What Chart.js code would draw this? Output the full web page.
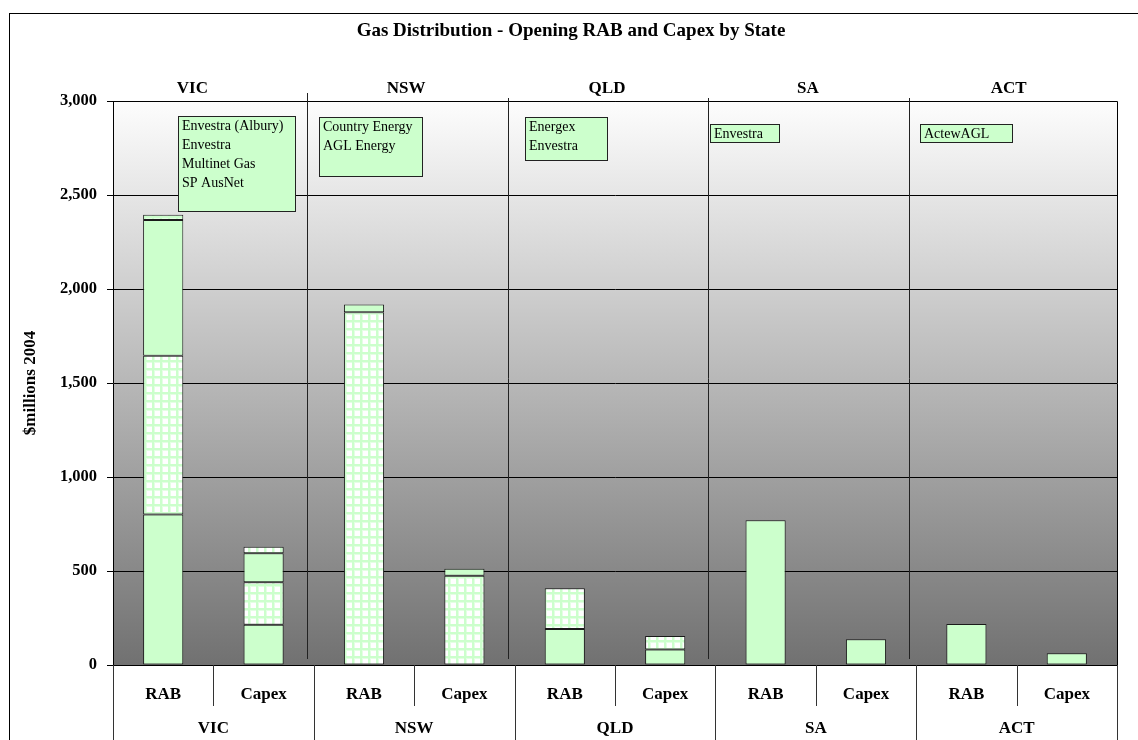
<!DOCTYPE html>
<html><head><meta charset="utf-8">
<script src="https://cdn.jsdelivr.net/npm/chart.js@4"></script>
<style>html,body{margin:0;padding:0;background:#fff}#wrap{width:1138px;height:740px;position:relative}</style>
</head><body><div id="wrap"><canvas id="c" width="1138" height="740"></canvas></div>
<script>
// ---- data ----
const chartTitle = "Gas Distribution - Opening RAB and Capex by State";
const yAxisTitle = "$millions 2004";
const categories = ["RAB","Capex","RAB","Capex","RAB","Capex","RAB","Capex","RAB","Capex"];
const states = ["VIC","NSW","QLD","SA","ACT"];
const segment1 = [800, 214, null, null, 191, 83, 770, 137, 218, 62];
const segment2 = [845, 226, 1876, 475, 217, 71, null, null, null, null];
const segment3 = [722, 154, 42, 37, null, null, null, null, null, null];
const segment4 = [28, 35, null, null, null, null, null, null, null, null];
const yTicks = [0, 500, 1000, 1500, 2000, 2500, 3000];
const distributors = [
  ["Envestra (Albury)", "Envestra", "Multinet Gas", "SP AusNet"],
  ["Country Energy", "AGL Energy"],
  ["Energex", "Envestra"],
  ["Envestra"],
  ["ActewAGL"]
];
// ---- layout of annotation boxes (pixels): x, y, w, h ----
const boxLayout = [[178,116,117,95],[319,117,103,59],[525,117,82,43],[710,124,69,18],[920,124,92,18]];
const topLabelShift = [-21, -8, -8, -8, -8];

const FONT = "'Liberation Serif', 'Times New Roman', serif";
const GREEN = '#ccffcc';
const EDGE = '#1a1a1a';

const canvas = document.getElementById('c');
function makePattern(){
  const p = document.createElement('canvas'); p.width = 8; p.height = 8;
  const g = p.getContext('2d');
  g.fillStyle = '#ffffff'; g.fillRect(0,0,8,8);
  g.fillStyle = '#e4ffe4'; g.fillRect(0,0,8,3); g.fillRect(0,0,3,8);
  g.fillStyle = GREEN; g.fillRect(0,0,8,2); g.fillRect(0,0,2,8);
  return canvas.getContext('2d').createPattern(p,'repeat');
}
const pattern = makePattern();

function ds(label, data, fill){
  return {label, data, backgroundColor: fill, borderColor: EDGE, borderWidth: 1,
    borderSkipped: false, stack: 's', categoryPercentage: 1.0, barPercentage: 0.4};
}

const decor = {
  id: 'decor',
  beforeDraw(chart){
    const {ctx, chartArea: a} = chart;
    ctx.save();
    ctx.fillStyle = '#fff'; ctx.fillRect(0,0,chart.width,chart.height);
    const g = ctx.createLinearGradient(0, a.top, 0, a.bottom);
    g.addColorStop(0, '#fdfdfd'); g.addColorStop(1, '#717171');
    ctx.fillStyle = g; ctx.fillRect(a.left, a.top, a.right - a.left, a.bottom - a.top);
    ctx.restore();
  },
  afterDraw(chart){
    const {ctx, chartArea: a} = chart;
    const xs = chart.scales.x;
    const px = i => xs.getPixelForValue(i);
    const step = px(1) - px(0);
    ctx.save();
    // outer frame
    ctx.strokeStyle = '#000'; ctx.lineWidth = 1;
    ctx.strokeRect(9.5, 13.5, 1200, 800);
    // plot border right/top
    ctx.beginPath();
    ctx.moveTo(a.left, a.top + 0.5); ctx.lineTo(a.right + 0.5, a.top + 0.5);
    ctx.lineTo(a.right + 0.5, a.bottom);
    ctx.stroke();
    // title
    ctx.fillStyle = '#000';
    ctx.font = "bold 19px " + FONT;
    ctx.textAlign = 'center'; ctx.textBaseline = 'middle';
    ctx.fillText(chartTitle, 571, 31);
    // multi-level category axis lines
    ctx.strokeStyle = '#333';
    for (let k = 0; k <= categories.length; k++) {
      const xb = Math.round(px(k) - step/2) + 0.5;
      const long = (k % 2 === 0);
      ctx.beginPath(); ctx.moveTo(xb, a.bottom); ctx.lineTo(xb, long ? 740 : 706); ctx.stroke();
    }
    // state labels (bottom and top) and separators
    ctx.font = "bold 17px " + FONT;
    ctx.fillStyle = '#000';
    states.forEach((s, j) => {
      const c = (px(2*j) + px(2*j+1)) / 2;
      ctx.fillText(s, c, 729);
      ctx.fillText(s, c + topLabelShift[j], 89);
      if (j > 0) {
        const xb = Math.round(px(2*j) - step/2 - 7) + 0.5;
        ctx.strokeStyle = '#222';
        ctx.beginPath(); ctx.moveTo(xb, j === 1 ? 93 : 98); ctx.lineTo(xb, a.bottom - 6); ctx.stroke();
      }
    });
    // distributor boxes
    ctx.font = "14px " + FONT;
    ctx.textAlign = 'left'; ctx.textBaseline = 'middle';
    distributors.forEach((lines, j) => {
      const [bx, by, bw, bh] = boxLayout[j];
      ctx.fillStyle = GREEN; ctx.fillRect(bx, by, bw, bh);
      ctx.strokeStyle = '#222'; ctx.strokeRect(bx + 0.5, by + 0.5, bw, bh);
      ctx.fillStyle = '#000';
      lines.forEach((t, i) => ctx.fillText(t, bx + 4, by + 10 + i * 19));
    });
    ctx.restore();
  }
};

new Chart(canvas, {
  type: 'bar',
  data: {
    labels: categories,
    datasets: [
      ds('Segment 1', segment1, GREEN),
      ds('Segment 2', segment2, pattern),
      ds('Segment 3', segment3, GREEN),
      ds('Segment 4', segment4, pattern)
    ]
  },
  options: {
    responsive: false, animation: false, devicePixelRatio: 1,
    layout: {padding: {top: 101, right: 21, left: 0, bottom: 0}},
    plugins: {legend: {display: false}, tooltip: {enabled: false}, title: {display: false}},
    scales: {
      x: {
        stacked: true,
        grid: {display: false},
        border: {display: true, color: '#000', width: 1},
        ticks: {font: {family: FONT, size: 17, weight: 'bold'}, color: '#000', padding: 11, maxRotation: 0, autoSkip: false},
        afterFit: s => { s.height = 75; }
      },
      y: {
        stacked: true, min: 0, max: 3000,
        afterBuildTicks: s => { s.ticks = yTicks.map(v => ({value: v})); },
        ticks: {font: {family: FONT, size: 16.5, weight: 'bold'}, color: '#000', padding: 10,
          callback: v => Number(v).toLocaleString('en-US')},
        grid: {color: '#000', lineWidth: 1, tickLength: 6, drawTicks: true},
        border: {display: true, color: '#000', width: 1},
        title: {display: true, text: yAxisTitle, color: '#000', font: {family: FONT, size: 17, weight: 'bold'}, padding: {top: 20, bottom: 0}},
        afterFit: s => { s.width = 113; }
      }
    }
  },
  plugins: [decor]
});
</script>
</body></html>
